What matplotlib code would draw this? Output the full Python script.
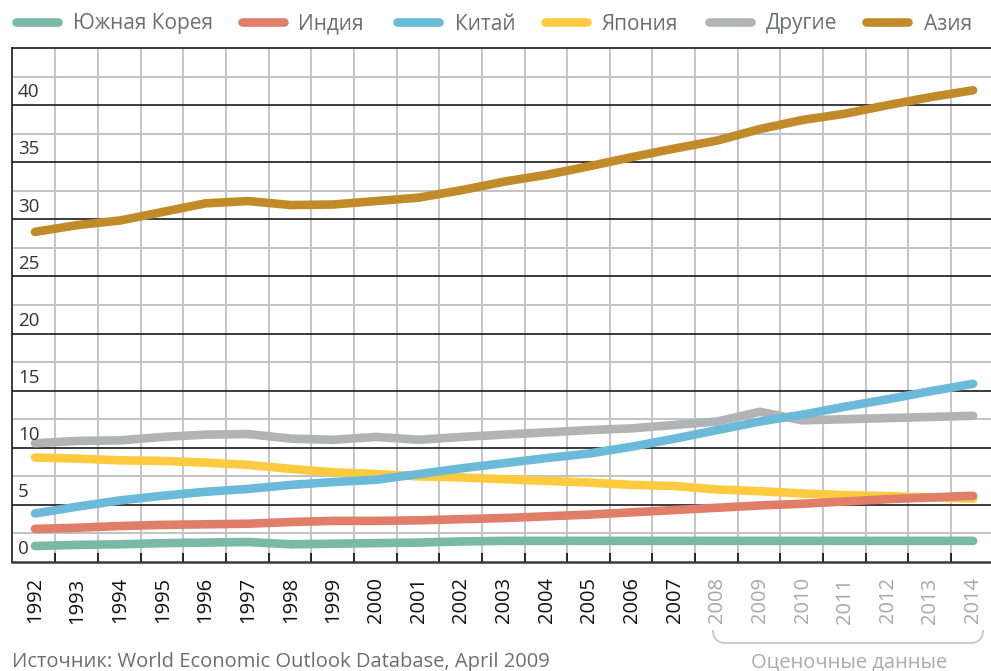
import matplotlib
matplotlib.use('Agg')
import matplotlib.pyplot as plt
from matplotlib.lines import Line2D
from matplotlib.path import Path
from matplotlib.patches import PathPatch
import numpy as np

plt.rcParams['font.family'] = ['Open Sans', 'DejaVu Sans']

# ---------------- data ----------------
years = list(range(1992, 2015))
korea = [1.4, 1.5, 1.55, 1.65, 1.7, 1.75, 1.55, 1.6, 1.65, 1.7, 1.8, 1.85, 1.85,
         1.85, 1.85, 1.85, 1.85, 1.85, 1.85, 1.85, 1.85, 1.85, 1.85]
india = [2.9, 3.0, 3.15, 3.25, 3.3, 3.35, 3.5, 3.6, 3.6, 3.65, 3.75, 3.85, 4.0,
         4.15, 4.35, 4.55, 4.75, 4.95, 5.1, 5.3, 5.5, 5.65, 5.8]
china = [4.25, 4.85, 5.4, 5.8, 6.15, 6.4, 6.75, 7.0, 7.2, 7.7, 8.2, 8.65, 9.1,
         9.5, 10.1, 10.8, 11.55, 12.3, 12.9, 13.6, 14.25, 14.95, 15.6]
japan = [9.15, 9.05, 8.9, 8.85, 8.7, 8.5, 8.15, 7.85, 7.7, 7.5, 7.4, 7.25, 7.1,
         6.95, 6.75, 6.65, 6.35, 6.2, 6.0, 5.85, 5.77, 5.65, 5.55]
others = [10.4, 10.6, 10.65, 10.95, 11.15, 11.2, 10.8, 10.7, 10.95, 10.7, 10.95,
          11.15, 11.35, 11.55, 11.7, 12.0, 12.3, 13.15, 12.4, 12.5, 12.6, 12.7, 12.8]
asia = [28.9, 29.5, 29.9, 30.65, 31.4, 31.6, 31.25, 31.3, 31.6, 31.9, 32.55, 33.3,
        33.9, 34.65, 35.45, 36.2, 36.9, 37.9, 38.7, 39.25, 40.0, 40.7, 41.3]

series_names = ['Южная Корея', 'Индия', 'Китай', 'Япония', 'Другие', 'Азия']
series_values = [korea, india, china, japan, others, asia]
colors = ['#79b9a6', '#e07e69', '#6bbad9', '#fdca40', '#b2b3b6', '#c28b2a']

y_labels = [0, 5, 10, 15, 20, 25, 30, 35, 40]
estimate_start = 2008
source_text = 'Источник: World Economic Outlook Database, April 2009'
estimate_text = 'Оценочные данные'

# ---------------- figure ----------------
W, H, DPI = 991, 671, 100
fig = plt.figure(figsize=(W / DPI, H / DPI), dpi=DPI)
fig.patch.set_facecolor('white')

def fx(x):
    return x / W

def fy(y):
    return 1 - y / H

ax = fig.add_axes([fx(12), fy(562), fx(991) - fx(12), fy(48) - fy(562)])
ax.set_xlim(1991.46, 2014.42)
ax.set_ylim(0, 45)

# grid
for v in np.arange(2.5, 45, 5):
    ax.axhline(v, color='#c2c2c2', lw=1.4, zorder=1)
for yr in years[:-1]:
    ax.axvline(yr + 0.48, color='#c6c6c6', lw=1.5, zorder=1)
for v in range(5, 45, 5):
    ax.axhline(v, color='#1a1a1a', lw=1.2, zorder=1.5)

# lines (drawn in reverse so India sits above Japan, China above Others)
for name, vals, c in reversed(list(zip(series_names, series_values, colors))):
    ax.plot(years, vals, color=c, lw=6.2, solid_capstyle='round',
            solid_joinstyle='round', zorder=3)

# spines
for s in ['left', 'top']:
    ax.spines[s].set_color('#1a1a1a')
    ax.spines[s].set_linewidth(1.2)
ax.spines['bottom'].set_color('#3a3a3a')
ax.spines['bottom'].set_linewidth(1.8)
ax.spines['right'].set_visible(False)

# y labels inside axes
ax.set_yticks([])
for v in y_labels:
    ax.annotate(str(v), xy=(0, v), xycoords=('axes fraction', 'data'),
                xytext=(4.3, 5.6), textcoords='offset points',
                ha='left', va='baseline', fontsize=13.5, color='#333333',
                zorder=4)

# x ticks
ax.set_xticks(years)
ax.set_xticklabels([str(y) for y in years], rotation=90, fontsize=14.5)
ax.tick_params(axis='x', which='major', length=0, pad=11)
ax.set_xticks([y + 0.48 for y in years[:-1]], minor=True)
ax.tick_params(axis='x', which='minor', length=6.5, width=1.3,
               direction='in', color='#1a1a1a')
for lbl, yr in zip(ax.get_xticklabels(), years):
    lbl.set_color('#a8a8a8' if yr >= estimate_start else '#111111')

# legend (manual, figure pixel layout)
leg_handle_x = [12, 238, 393, 541, 705, 862]
leg_text_x = [73, 298, 455, 602, 766, 924]
for name, c, hx, tx in zip(series_names, colors, leg_handle_x, leg_text_x):
    fig.add_artist(Line2D([fx(hx + 4), fx(hx + 46)], [fy(21.7), fy(21.7)],
                          transform=fig.transFigure, color=c, lw=6.2,
                          solid_capstyle='round'))
    fig.text(fx(tx), fy(29.5), name, ha='left', va='baseline',
             fontsize=15, color='#6d6e71')

# bracket for estimates
bx0, bx1, by_top, by = 713, 983, 630, 643
r = 13
verts = [(bx0, by_top), (bx0, by), (bx0 + r, by), (bx1 - r, by), (bx1, by), (bx1, by_top)]
codes = [Path.MOVETO, Path.CURVE3, Path.CURVE3, Path.LINETO, Path.CURVE3, Path.CURVE3]
path = Path([(fx(x), fy(y)) for x, y in verts], codes)
fig.add_artist(PathPatch(path, transform=fig.transFigure, fill=False,
                         edgecolor='#c8c8c8', lw=1.3))
fig.text(fx(849), fy(667), estimate_text, ha='center', va='baseline',
         fontsize=14.5, color='#ababab')

fig.text(fx(12), fy(667), source_text, ha='left', va='baseline',
         fontsize=14.5, color='#6d6e71')

fig.savefig('out.png', dpi=DPI)
